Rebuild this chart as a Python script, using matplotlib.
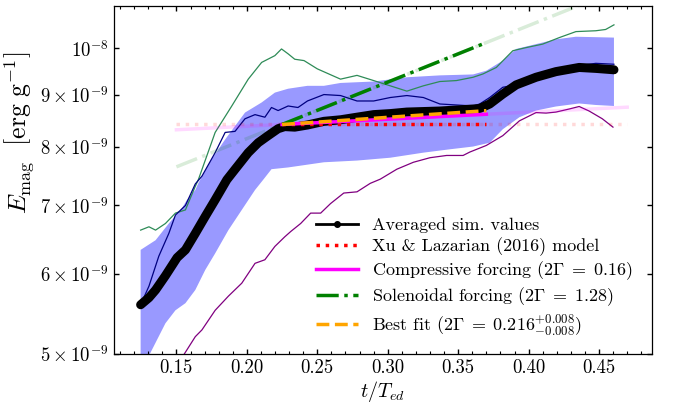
import numpy as np
import matplotlib
matplotlib.use("Agg")
import matplotlib.pyplot as plt
from matplotlib.lines import Line2D

plt.rcParams['font.family'] = ['cmr10', 'DejaVu Serif']
plt.rcParams['mathtext.fontset'] = 'cm'
plt.rcParams['axes.unicode_minus'] = False
plt.rcParams['axes.linewidth'] = 0.9

# ---- data (E in units of 1e-9 erg/g) ----
t_avg = [0.1246, 0.1305, 0.1352, 0.1422, 0.1505, 0.1564, 0.1634, 0.1705, 0.1775, 0.1858,
         0.1917, 0.2010, 0.2081, 0.2151, 0.2222, 0.2269, 0.2340, 0.2430, 0.2547, 0.2665,
         0.2782, 0.2900, 0.3018, 0.3136, 0.3253, 0.3370, 0.3488, 0.3606, 0.3653, 0.3724,
         0.3817, 0.3912, 0.4053, 0.4194, 0.4359, 0.4477, 0.4606]
E_avg = [5.59, 5.68, 5.78, 5.97, 6.22, 6.33, 6.57, 6.83, 7.09, 7.42,
         7.60, 7.89, 8.07, 8.20, 8.33, 8.37, 8.36, 8.40, 8.47, 8.50,
         8.55, 8.60, 8.62, 8.65, 8.66, 8.67, 8.69, 8.71, 8.72, 8.81,
         9.01, 9.20, 9.36, 9.48, 9.57, 9.55, 9.52]

t_up = [0.1246, 0.1352, 0.1446, 0.1540, 0.1575, 0.1634, 0.1657, 0.1752, 0.1846, 0.1987,
        0.2105, 0.2199, 0.2293, 0.2430, 0.2547, 0.2665, 0.2900, 0.3136, 0.3370, 0.3606,
        0.3700, 0.3817, 0.3912, 0.4053, 0.4194, 0.4336, 0.4477, 0.4606]
E_up = [6.33, 6.47, 6.72, 6.96, 7.09, 7.25, 7.37, 7.78, 8.13, 8.64,
        8.84, 9.04, 9.12, 9.18, 9.18, 9.24, 9.27, 9.36, 9.40, 9.42,
        9.50, 9.72, 9.98, 10.09, 10.20, 10.26, 10.25, 10.24]

t_lo = [0.1246, 0.1305, 0.1422, 0.1493, 0.1564, 0.1634, 0.1705, 0.1775, 0.1869, 0.1964,
        0.2058, 0.2116, 0.2175, 0.2293, 0.2547, 0.2782, 0.3018, 0.3253, 0.3440, 0.3606,
        0.3724, 0.3817, 0.3935, 0.4053, 0.4194, 0.4359, 0.4477, 0.4606]
E_lo = [4.50, 4.98, 5.36, 5.52, 5.61, 5.78, 6.05, 6.28, 6.62, 6.93,
        7.25, 7.42, 7.60, 7.63, 7.72, 7.75, 7.80, 7.89, 7.95, 8.00,
        8.07, 8.32, 8.55, 8.68, 8.76, 8.82, 8.79, 8.77]

t_navy = [0.1246, 0.1305, 0.1375, 0.1446, 0.1493, 0.1564, 0.1634, 0.1681, 0.1775, 0.1846,
          0.1916, 0.1987, 0.2058, 0.2128, 0.2175, 0.2222, 0.2293, 0.2363, 0.2430, 0.2547,
          0.2665, 0.2782, 0.2900, 0.3018, 0.3136, 0.3253, 0.3370, 0.3488, 0.3606, 0.3653,
          0.3724, 0.3817, 0.3912, 0.4053, 0.4194, 0.4359, 0.4477, 0.4606]
E_navy = [5.59, 5.83, 6.24, 6.57, 6.85, 7.00, 7.35, 7.48, 7.89, 8.26,
          8.28, 8.52, 8.60, 8.55, 8.74, 8.68, 8.77, 8.74, 8.87, 9.00,
          8.98, 8.87, 8.87, 8.94, 8.98, 8.94, 8.81, 8.79, 8.77, 8.81,
          8.94, 9.15, 9.20, 9.38, 9.49, 9.61, 9.66, 9.64]

t_green = [0.1246, 0.1305, 0.1352, 0.1422, 0.1493, 0.1564, 0.1634, 0.1657, 0.1775, 0.1893,
           0.2010, 0.2105, 0.2199, 0.2246, 0.2293, 0.2340, 0.2406, 0.2500, 0.2665, 0.2782,
           0.2900, 0.3018, 0.3136, 0.3253, 0.3370, 0.3488, 0.3606, 0.3676, 0.3771, 0.3888,
           0.3982, 0.4100, 0.4218, 0.4336, 0.4477, 0.4547, 0.4606]
E_green = [6.62, 6.67, 6.62, 6.72, 6.88, 6.93, 7.31, 7.43, 8.26, 8.77,
           9.32, 9.68, 9.83, 9.98, 9.87, 9.75, 9.72, 9.54, 9.32, 9.40,
           9.29, 9.18, 9.07, 9.18, 9.27, 9.29, 9.36, 9.43, 9.57, 9.94,
           10.01, 10.09, 10.24, 10.38, 10.40, 10.43, 10.54]

t_purple = [0.1500, 0.1552, 0.1634, 0.1681, 0.1775, 0.1869, 0.1964, 0.2058, 0.2128, 0.2199,
            0.2269, 0.2312, 0.2382, 0.2453, 0.2524, 0.2594, 0.2688, 0.2782, 0.2876, 0.2947,
            0.3065, 0.3182, 0.3300, 0.3418, 0.3535, 0.3582, 0.3700, 0.3817, 0.3935, 0.4053,
            0.4124, 0.4194, 0.4288, 0.4359, 0.4430, 0.4523, 0.4599]
E_purple = [4.90, 4.99, 5.20, 5.28, 5.52, 5.70, 5.87, 6.14, 6.19, 6.38,
            6.52, 6.60, 6.72, 6.88, 6.88, 7.03, 7.20, 7.22, 7.36, 7.43,
            7.60, 7.72, 7.80, 7.84, 7.84, 7.90, 8.02, 8.20, 8.48, 8.64,
            8.63, 8.65, 8.71, 8.76, 8.67, 8.52, 8.36]

# growth-rate models: E = E0 * exp(2Gamma (t - t0))
fit_labels = ["Xu & Lazarian (2016) model",
              r"Compressive forcing ($2\Gamma\;=\;0.16$)",
              r"Solenoidal forcing ($2\Gamma\;=\;1.28$)",
              r"Best fit ($2\Gamma\;=\;0.216^{+0.008}_{-0.008}$)"]
fit_rates = [0.0, 0.16, 1.28, 0.216]
fit_colors = ['red', 'magenta', 'green', 'orange']
fit_styles = [':', '-', '-.', '--']
fit_extend = [True, True, True, False]
t0, E0 = 0.225, 8.41
fit_range = (0.225, 0.37)
ext_range = (0.15, 0.47)

yticks = [5e-9, 6e-9, 7e-9, 8e-9, 9e-9, 1e-8]
ytick_labels = [r'$5\times10^{-9}$', r'$6\times10^{-9}$', r'$7\times10^{-9}$',
                r'$8\times10^{-9}$', r'$9\times10^{-9}$', r'$10^{-8}$']
xticks = [0.15, 0.20, 0.25, 0.30, 0.35, 0.40, 0.45]

sc = 1e-9
fig = plt.figure(figsize=(6.75, 4.08), dpi=100)
ax = fig.add_axes([0.1689, 0.1324, 0.7966, 0.8529])

band_t = np.concatenate([t_up, t_lo[::-1]])
band_E = np.concatenate([E_up, E_lo[::-1]]) * sc
ax.fill(band_t, band_E, color='blue', alpha=0.4, lw=0, zorder=1)

ax.plot(t_green, np.array(E_green) * sc, color='seagreen', lw=0.9, zorder=2)
ax.plot(t_navy, np.array(E_navy) * sc, color='navy', lw=0.9, zorder=2)
ax.plot(t_purple, np.array(E_purple) * sc, color='purple', lw=0.9, zorder=2)
ax.plot(t_avg, np.array(E_avg) * sc, color='black', lw=6.5, solid_capstyle='round',
        solid_joinstyle='round', zorder=3)

handles = [Line2D([], [], color='black', lw=2, marker='o', ms=4)]
for lab, r, c, ls, ext in zip(fit_labels, fit_rates, fit_colors, fit_styles, fit_extend):
    if ext:
        te = np.linspace(*ext_range, 100)
        ax.plot(te, E0 * np.exp(r * (te - t0)) * sc, color=c, ls=ls, lw=2.5, alpha=0.15, zorder=2)
    tf = np.linspace(*fit_range, 100)
    ax.plot(tf, E0 * np.exp(r * (tf - t0)) * sc, color=c, ls=ls, lw=2.5, zorder=4)
    handles.append(Line2D([], [], color=c, ls=ls, lw=2.5))

labels = ["Averaged sim. values"] + fit_labels
ax.legend(handles, labels, loc='lower right', frameon=False, fontsize=13,
          handlelength=2.3, handletextpad=0.8, labelspacing=0.2,
          bbox_to_anchor=(0.995, 0.0))

ax.set_yscale('log')
ax.set_xlim(0.1057, 0.4874)
ax.set_ylim(5e-9, 1.1e-8)
ax.set_yticks(yticks)
ax.set_yticklabels(ytick_labels)
ax.yaxis.set_minor_locator(matplotlib.ticker.NullLocator())
ax.set_xticks(xticks)
ax.set_xticklabels([f"{v:.2f}" for v in xticks])
ax.xaxis.set_minor_locator(matplotlib.ticker.MultipleLocator(0.01))
ax.tick_params(which='both', direction='in', top=True, right=True, labelsize=13.5)
ax.tick_params(which='major', length=3.8, width=1, pad=4)
ax.tick_params(which='minor', length=2, width=0.8)

ax.set_xlabel(r'$t/T_{ed}$', fontsize=14.5, labelpad=1)
ax.set_ylabel(r'$E_{\rm mag}\ \ \left[{\rm erg\ g^{-1}}\right]$', fontsize=18.5)
ax.yaxis.set_label_coords(-0.145, 0.635)

fig.savefig('out.png', dpi=100)
